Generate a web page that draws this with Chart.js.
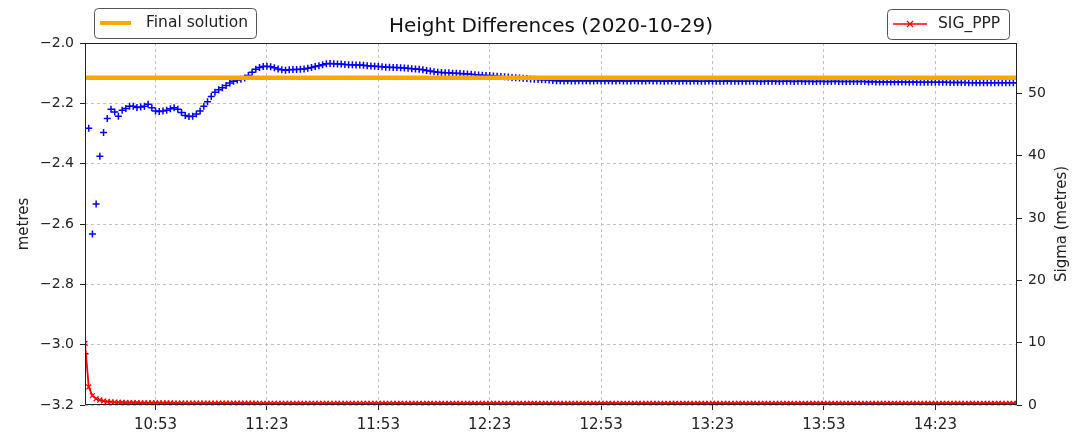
<!DOCTYPE html>
<html>
<head>
<meta charset="utf-8">
<script src="https://cdn.jsdelivr.net/npm/chart.js@4.4.0/dist/chart.umd.min.js"></script>
<style>
  html, body { margin: 0; padding: 0; background: #fff; }
</style>
</head>
<body>
<canvas id="myChart" width="1081" height="434"></canvas>
<script>
// one epoch per minute, first epoch at 10:34
const epochStart = '10:34';
const tickLabels = ['10:53', '11:23', '11:53', '12:23', '12:53', '13:23', '13:53', '14:23'];
const heightTicks = [-3.2, -3.0, -2.8, -2.6, -2.4, -2.2, -2.0];
const sigmaTicks = [0, 10, 20, 30, 40, 50];
const sigmaMax = 58.1;
const finalSolution = -2.115;

// height differences (metres)
const heightDiff = [
  -3.030, -2.283, -2.633, -2.534, -2.375, -2.297, -2.250, -2.220, -2.229, -2.243,
  -2.223, -2.217, -2.210, -2.210, -2.214, -2.212, -2.210, -2.203, -2.215, -2.225,
  -2.227, -2.225, -2.223, -2.218, -2.215, -2.220, -2.230, -2.240, -2.244, -2.243,
  -2.235, -2.225, -2.210, -2.195, -2.177, -2.163, -2.155, -2.148, -2.141, -2.133,
  -2.127, -2.123, -2.120, -2.116, -2.108, -2.097, -2.087, -2.081, -2.078, -2.077,
  -2.079, -2.082, -2.086, -2.089, -2.090, -2.089, -2.088, -2.088, -2.087, -2.086,
  -2.084, -2.081, -2.078, -2.075, -2.072, -2.069, -2.068, -2.069, -2.070, -2.070,
  -2.071, -2.072, -2.072, -2.073, -2.073, -2.074, -2.075, -2.076, -2.077, -2.078,
  -2.079, -2.080, -2.080, -2.081, -2.081, -2.082, -2.083, -2.084, -2.085, -2.086,
  -2.087, -2.089, -2.091, -2.093, -2.095, -2.097, -2.098, -2.099, -2.099, -2.100,
  -2.100, -2.101, -2.102, -2.103, -2.104, -2.105, -2.106, -2.107, -2.108, -2.108,
  -2.109, -2.110, -2.111, -2.112, -2.113, -2.114, -2.115, -2.116, -2.117, -2.118,
  -2.119, -2.120, -2.121, -2.122, -2.122, -2.123, -2.124, -2.125, -2.125, -2.126,
  -2.125, -2.126, -2.126, -2.125, -2.126, -2.125, -2.126, -2.126, -2.125, -2.126,
  -2.126, -2.125, -2.126, -2.126, -2.125, -2.126, -2.126, -2.126, -2.125, -2.126,
  -2.126, -2.126, -2.125, -2.126, -2.126, -2.126, -2.127, -2.126, -2.126, -2.126,
  -2.127, -2.126, -2.126, -2.127, -2.126, -2.127, -2.127, -2.127, -2.126, -2.127,
  -2.127, -2.127, -2.127, -2.126, -2.127, -2.127, -2.127, -2.127, -2.127, -2.127,
  -2.127, -2.127, -2.128, -2.127, -2.127, -2.127, -2.127, -2.128, -2.127, -2.127,
  -2.127, -2.128, -2.127, -2.127, -2.128, -2.127, -2.128, -2.128, -2.127, -2.128,
  -2.128, -2.128, -2.127, -2.128, -2.128, -2.128, -2.128, -2.128, -2.128, -2.128,
  -2.128, -2.129, -2.128, -2.129, -2.129, -2.129, -2.129, -2.129, -2.129, -2.129,
  -2.129, -2.129, -2.130, -2.129, -2.130, -2.130, -2.130, -2.130, -2.130, -2.130,
  -2.130, -2.130, -2.130, -2.131, -2.131, -2.131, -2.131, -2.131, -2.132, -2.132,
  -2.132, -2.132, -2.132, -2.132, -2.132, -2.132, -2.132, -2.132, -2.132, -2.132,
  -2.132, -2.132
];

// sigma of the PPP solution (metres)
const sigmaPPP = [
  9.90, 2.90, 1.50, 1.00, 0.80, 0.65, 0.55, 0.50, 0.46, 0.43,
  0.41, 0.39, 0.38, 0.37, 0.36, 0.35, 0.35, 0.34, 0.34, 0.33,
  0.33, 0.32, 0.32, 0.32, 0.31, 0.31, 0.31, 0.31, 0.30, 0.30,
  0.30, 0.30, 0.30, 0.29, 0.29, 0.29, 0.29, 0.29, 0.29, 0.28,
  0.28, 0.28, 0.28, 0.28, 0.28, 0.28, 0.28, 0.27, 0.27, 0.27,
  0.27, 0.27, 0.27, 0.27, 0.27, 0.27, 0.27, 0.27, 0.26, 0.26,
  0.26, 0.26, 0.26, 0.26, 0.26, 0.26, 0.26, 0.26, 0.26, 0.26,
  0.26, 0.26, 0.26, 0.26, 0.26, 0.26, 0.26, 0.26, 0.26, 0.26,
  0.26, 0.26, 0.26, 0.26, 0.25, 0.25, 0.25, 0.25, 0.25, 0.25,
  0.25, 0.25, 0.25, 0.25, 0.25, 0.25, 0.25, 0.25, 0.25, 0.25,
  0.25, 0.25, 0.25, 0.25, 0.25, 0.25, 0.25, 0.25, 0.25, 0.25,
  0.25, 0.25, 0.25, 0.25, 0.25, 0.25, 0.25, 0.25, 0.25, 0.25,
  0.25, 0.25, 0.25, 0.25, 0.25, 0.25, 0.25, 0.25, 0.25, 0.25,
  0.25, 0.25, 0.25, 0.25, 0.25, 0.25, 0.25, 0.25, 0.25, 0.25,
  0.25, 0.25, 0.25, 0.25, 0.25, 0.25, 0.25, 0.25, 0.25, 0.25,
  0.25, 0.25, 0.25, 0.25, 0.25, 0.25, 0.25, 0.25, 0.25, 0.25,
  0.25, 0.25, 0.25, 0.25, 0.25, 0.25, 0.25, 0.25, 0.25, 0.25,
  0.25, 0.25, 0.25, 0.25, 0.25, 0.25, 0.25, 0.25, 0.25, 0.25,
  0.25, 0.25, 0.25, 0.25, 0.25, 0.25, 0.25, 0.25, 0.25, 0.25,
  0.25, 0.25, 0.25, 0.25, 0.25, 0.25, 0.25, 0.25, 0.25, 0.25,
  0.25, 0.25, 0.25, 0.25, 0.25, 0.25, 0.25, 0.25, 0.25, 0.25,
  0.25, 0.25, 0.25, 0.25, 0.25, 0.25, 0.25, 0.25, 0.25, 0.25,
  0.25, 0.25, 0.25, 0.25, 0.25, 0.25, 0.25, 0.25, 0.25, 0.25,
  0.25, 0.25, 0.25, 0.25, 0.25, 0.25, 0.25, 0.25, 0.25, 0.25,
  0.25, 0.25, 0.25, 0.25, 0.25, 0.25, 0.25, 0.25, 0.25, 0.25,
  0.25, 0.25
];

function toMinutes(s) {
  const [h, m] = s.split(':').map(Number);
  return h * 60 + m;
}
function toClock(v) {
  const h = Math.floor(v / 60), m = Math.round(v - h * 60);
  return h + ':' + String(m).padStart(2, '0');
}

const t0 = toMinutes(epochStart);
const epochs = heightDiff.map((_, i) => t0 + i);
const xMin = epochs[0], xMax = epochs[epochs.length - 1];

const FONT = 'DejaVu Sans';
Chart.defaults.font.family = FONT;

// two separate legend boxes + the frame, like the matplotlib figure
const extras = {
  id: 'extras',
  afterDraw(chart) {
    const c = chart.ctx, a = chart.chartArea;
    const ds = chart.data.datasets;
    c.save();

    // axes frame
    c.strokeStyle = '#222';
    c.lineWidth = 1;
    c.strokeRect(Math.round(a.left) + 0.5, Math.round(a.top) + 0.5,
                 Math.round(a.right - a.left) - 1, Math.round(a.bottom - a.top) - 1);

    // right axis title
    c.fillStyle = '#222';
    c.font = '15px "' + FONT + '"';
    c.textAlign = 'center';
    c.textBaseline = 'middle';
    c.translate(1062, (a.top + a.bottom) / 2);
    c.rotate(-Math.PI / 2);
    c.fillText('Sigma (metres)', 0, 0);
    c.setTransform(1, 0, 0, 1, 0, 0);

    // legend boxes
    c.font = '15.5px "' + FONT + '"';
    c.textAlign = 'left';
    c.lineWidth = 1;
    c.strokeStyle = '#555';
    c.fillStyle = 'rgba(255,255,255,0.85)';
    c.beginPath(); c.roundRect(94.5, 8.5, 162, 30, 4); c.fill(); c.stroke();
    c.beginPath(); c.roundRect(887.5, 9.5, 122, 30, 4); c.fill(); c.stroke();

    c.strokeStyle = ds[1].borderColor;
    c.lineWidth = 4;
    c.beginPath(); c.moveTo(100, 23); c.lineTo(131, 23); c.stroke();

    c.strokeStyle = ds[0].borderColor;
    c.lineWidth = 1.5;
    c.beginPath(); c.moveTo(893, 24); c.lineTo(927, 24); c.stroke();
    c.lineWidth = 1.2;
    c.beginPath();
    c.moveTo(907, 21); c.lineTo(913, 27);
    c.moveTo(913, 21); c.lineTo(907, 27);
    c.stroke();

    c.fillStyle = '#222';
    c.fillText(ds[1].label, 146, 23);
    c.fillText(ds[0].label, 938, 24);
    c.restore();
  }
};

const ctx = document.getElementById('myChart');

var chart = new Chart(ctx, {
  type: 'line',
  data: {
    datasets: [{
      label: 'SIG_PPP',
      data: sigmaPPP.map((v, i) => ({ x: epochs[i], y: v })),
      yAxisID: 'y2',
      borderColor: '#ff0000',
      backgroundColor: '#ff0000',
      borderWidth: 1.8,
      pointStyle: 'crossRot',
      pointRadius: 3.5,
      pointBorderWidth: 1.2,
      tension: 0,
      order: 0
    }, {
      label: 'Final solution',
      data: [{ x: xMin, y: finalSolution }, { x: xMax, y: finalSolution }],
      yAxisID: 'y',
      borderColor: '#ffa500',
      borderWidth: 4.5,
      pointRadius: 0,
      order: 1
    }, {
      label: 'Height difference',
      data: heightDiff.map((v, i) => ({ x: epochs[i], y: v })),
      yAxisID: 'y',
      showLine: false,
      borderColor: '#0000ff',
      backgroundColor: '#0000ff',
      pointStyle: 'cross',
      pointRadius: 3.5,
      pointBorderWidth: 1.5,
      order: 2
    }]
  },
  options: {
    responsive: false,
    animation: false,
    devicePixelRatio: 1,
    layout: { padding: 0 },
    plugins: {
      legend: { display: false },
      tooltip: { enabled: false },
      title: {
        display: true,
        fullSize: false,
        text: 'Height Differences (2020-10-29)',
        color: '#111',
        font: { size: 20, weight: 'normal' },
        padding: { top: 15, bottom: 4 }
      }
    },
    scales: {
      x: {
        type: 'linear',
        min: xMin,
        max: xMax,
        afterBuildTicks: s => { s.ticks = tickLabels.map(t => ({ value: toMinutes(t) })); },
        afterFit: s => { s.height = 29; },
        ticks: { callback: v => toClock(v), color: '#222', font: { size: 15 }, padding: 6, maxRotation: 0, autoSkip: false },
        grid: { color: '#c2c2c2', lineWidth: 1, tickLength: 5, tickColor: '#222', tickBorderDash: [] },
        border: { display: false, dash: [3, 3] }
      },
      y: {
        position: 'left',
        min: -3.2,
        max: -2.0,
        afterBuildTicks: s => { s.ticks = heightTicks.map(v => ({ value: v })); },
        afterFit: s => { s.width = 85; },
        ticks: {
          callback: v => (v < 0 ? '\u2212' : '') + Math.abs(v).toFixed(1),
          color: '#222', font: { size: 14 }, padding: 6
        },
        grid: { color: '#c2c2c2', lineWidth: 1, tickLength: 5, tickColor: '#222', tickBorderDash: [] },
        border: { display: false, dash: [3, 3] },
        title: { display: true, text: 'metres', color: '#222', font: { size: 15 }, padding: { top: 15, bottom: 0 } }
      },
      y2: {
        position: 'right',
        min: 0,
        max: sigmaMax,
        afterBuildTicks: s => { s.ticks = sigmaTicks.map(v => ({ value: v })); },
        afterFit: s => { s.width = 64; },
        ticks: { color: '#222', font: { size: 14 }, padding: 6 },
        grid: { drawOnChartArea: false, tickLength: 5, tickColor: '#222' },
        border: { display: false }
      }
    }
  },
  plugins: [extras]
});
</script>
</body>
</html>
